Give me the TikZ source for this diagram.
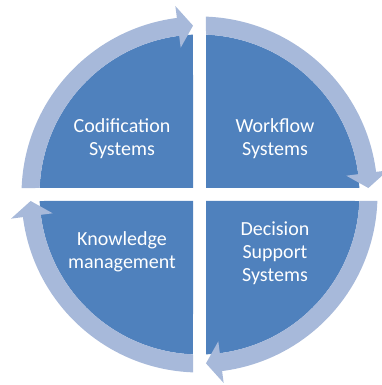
\documentclass[tikz,border=0pt]{standalone}
\usepackage{fontspec}
\setmainfont{Carlito}
\definecolor{quad}{RGB}{79,129,189}
\definecolor{ring}{RGB}{167,185,218}

\begin{document}
\begin{tikzpicture}[x=1pt, y=1pt,
		quarter/.style={fill=quad},
		band/.style={fill=ring},
		lbl/.style={text=white, align=center, font=\fontsize{20}{23}\selectfont}]
				\useasboundingbox (-199.5,-190.5) rectangle (182.5,194.5);
				% four quarters, each with its arrow band
				\foreach \r in {0,90,180,270}{
					\begin{scope}[rotate=-\r]
						\fill[quarter] (-6.5,6.5) -- (92.33:160) arc[start angle=92.33, end angle=177.67, radius=160] -- cycle;
						\fill[band] (177.67:160) -- (177.91:178) arc[start angle=177.91, end angle=97.3, radius=178] -- (97.3:190) -- (92.2:169) -- (97.3:148) -- (97.3:160) arc[start angle=97.3, end angle=177.67, radius=160] -- cycle;
					\end{scope}
				}
				\node[lbl] (C)at(-77.5, 56) {Codification\\Systems};
				\node[lbl] (W)at(75.5, 56) {Workflow\\Systems};
				\node[lbl] (K)at(-77.5, -57) {Knowledge\\management};
				\node[lbl] (D)at(75.5, -59) {Decision\\Support\\Systems};
			\end{tikzpicture}
\end{document}
